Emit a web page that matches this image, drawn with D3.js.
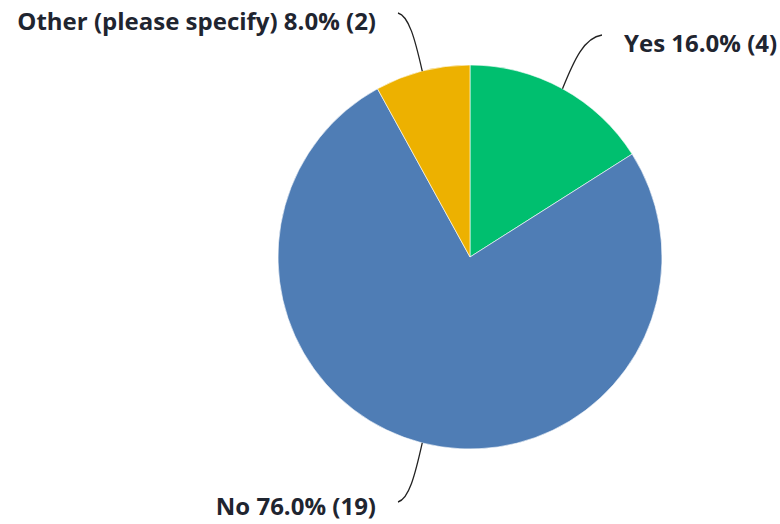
<!DOCTYPE html>
<html>
<head>
<meta charset="utf-8">
<script src="https://cdn.jsdelivr.net/npm/d3@7"></script>
<style>
  html, body { margin: 0; padding: 0; background: #fff; }
  svg { display: block; }
  .lbl { font-family: "Open Sans", sans-serif; font-weight: 700; font-size: 24px; fill: #1f2530; }
  .leader { fill: none; stroke: #222; stroke-width: 1.3; }
</style>
</head>
<body>
<svg id="chart" width="780" height="524"></svg>
<script>
// Survey responses
const categories = ["Yes", "No", "Other (please specify)"];
const counts = [4, 19, 2];
const percents = [16.0, 76.0, 8.0];
const colors = ["#00BF6F", "#4F7DB5", "#EDB100"];

const width = 780, height = 524;
const cx = 470, cy = 257, radius = 192;

// Label anchor (outer end of each leader line), text side and baseline offset
const labelEnds = [[602, 35], [398, 502], [398, 13]];
const labelSide = ["right", "left", "left"];
const labelDy = [17, 13, 17];

const svg = d3.select("#chart");
const g = svg.append("g").attr("transform", `translate(${cx},${cy})`);

const data = categories.map((c, i) => ({ name: c, count: counts[i], pct: percents[i], color: colors[i] }));

const pie = d3.pie().sort(null).value(d => d.count);
const arc = d3.arc().innerRadius(0).outerRadius(radius);
const edgeArc = d3.arc().innerRadius(radius).outerRadius(radius);

const arcs = pie(data);

g.selectAll("path.slice")
  .data(arcs)
  .enter().append("path")
  .attr("class", "slice")
  .attr("d", arc)
  .attr("fill", d => d.data.color)
  .attr("stroke", "#ffffff")
  .attr("stroke-width", 0.6);

// Leader lines from slice edge to label
arcs.forEach((a, i) => {
  const [px, py] = edgeArc.centroid(a);
  const sx = cx + px, sy = cy + py;
  const [ex, ey] = labelEnds[i];
  // bend: steep near the pie, flattening toward the label
  const c1x = sx + (ex - sx) * 0.3, c1y = sy + (ey - sy) * 0.55;
  const c2x = sx + (ex - sx) * 0.55, c2y = ey + (sy - ey) * 0.05;
  svg.append("path")
    .attr("class", "leader")
    .attr("d", `M${sx},${sy} C${c1x},${c1y} ${c2x},${c2y} ${ex},${ey}`);

  const right = labelSide[i] === "right";
  svg.append("text")
    .attr("class", "lbl")
    .attr("x", right ? ex + 22 : ex - 22)
    .attr("y", ey + labelDy[i])
    .attr("text-anchor", right ? "start" : "end")
    .text(`${a.data.name} ${a.data.pct.toFixed(1)}% (${a.data.count})`);
});
</script>
</body>
</html>
